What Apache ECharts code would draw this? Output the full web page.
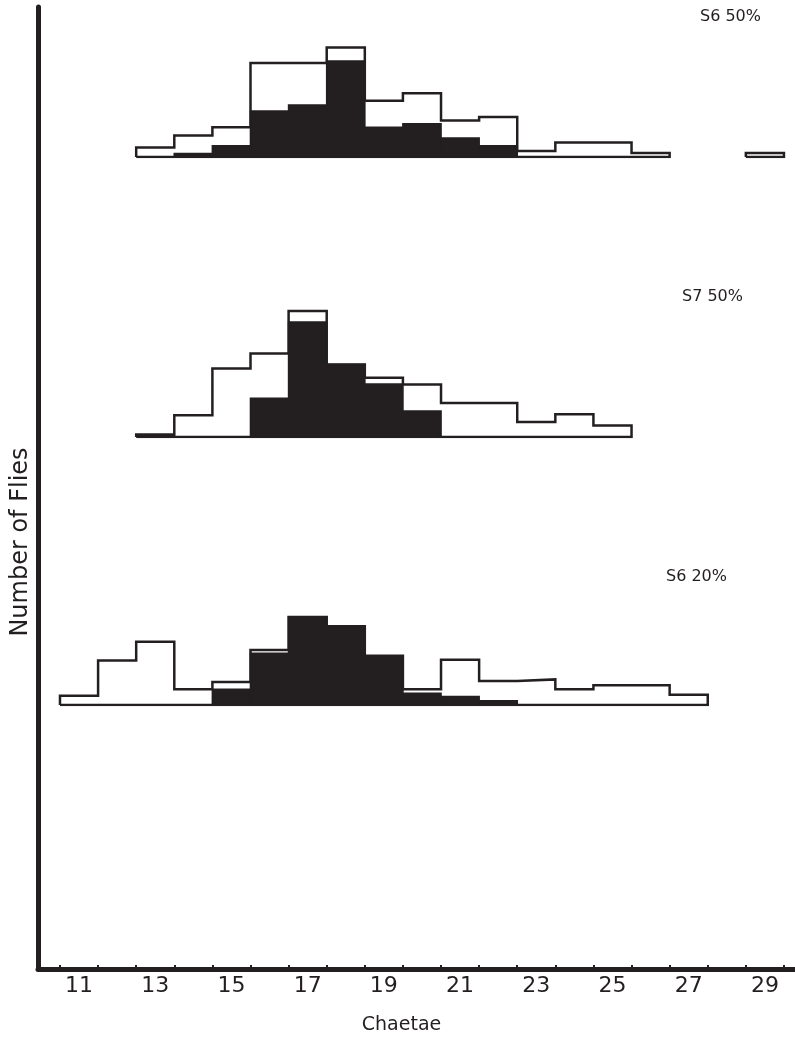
<!DOCTYPE html>
<html><head><meta charset="utf-8">
<script src="https://cdn.jsdelivr.net/npm/echarts@6/dist/echarts.min.js"></script>
<style>html,body{margin:0;padding:0;background:#fff}#c{width:795px;height:1042px}</style>
</head><body><div id="c"></div>
<script>
// Chaetae classes (bin centres)
const chaetae = [11,12,13,14,15,16,17,18,19,20,21,22,23,24,25,26,27,28,29];
// Tick labels on the x axis
const tickLabels = ['11','13','15','17','19','21','23','25','27','29'];
// Panel titles
const panelTitles = ['S6 50%', 'S7 50%', 'S6 20%'];

// Number of flies (relative heights), aligned with chaetae; null = no flies
const s6_50_all   = [null,null,9.5,21.4,29.8,94,94,109.5,56.3,63.7,36.6,40,6.1,14.6,14.6,4,null,null,4];
const s6_50_black = [null,null,null,3.4,11.2,46,52,96,29.8,33.2,19,11.2,null,null,null,null,null,null,null];

const s7_50_all   = [null,null,2.5,21.7,68.5,83.4,126,72.5,59.3,52.5,33.9,33.9,14.9,22.7,11.5,null,null,null,null];
const s7_50_black = [null,null,null,null,null,38.6,115,72.5,53,26,null,null,null,null,null,null,null,null,null];

const s6_20_all   = [9.2,44.6,63.3,15.7,23,55,88,78.7,49.2,15.7,45.3,24,25.6,15.7,19.7,19.7,10.2,null,null];
const s6_20_black = [null,null,null,null,15.7,51.8,88,78.7,49.2,11.8,8.5,4.3,null,null,null,null,null,null,null];

const INK = '#231f20';
const FONT = 'DejaVu Sans';
const X_MIN = 9.923, X_MAX = 29.79;
const tickVals = chaetae.map(c => c - 0.5).concat([chaetae[chaetae.length-1] + 0.5]);
const labelVals = tickLabels.map(Number);

const panels = [
  {all: s6_50_all, black: s6_50_black, top: 27},
  {all: s7_50_all, black: s7_50_black, top: 307},
  {all: s6_20_all, black: s6_20_black, top: 575}
];
const PANEL_H = 130;

const grids = [{left: 38, right: 0, top: 7, bottom: 73, containLabel: false, outerBoundsMode: 'none'}];
const xAxes = [{
  gridIndex: 0, type: 'value', min: X_MIN, max: X_MAX,
  axisLine: {show: true, lineStyle: {color: INK, width: 5}},
  axisTick: {show: true, inside: true, length: 4, customValues: tickVals, lineStyle: {color: INK, width: 2}},
  axisLabel: {show: true, customValues: labelVals, formatter: v => String(v), margin: 6,
    fontSize: 22, color: INK, fontFamily: FONT},
  splitLine: {show: false},
  name: 'Chaetae', nameLocation: 'middle', nameGap: 47,
  nameTextStyle: {fontSize: 19, color: INK, fontFamily: FONT, padding: [0, 30, 0, 0]}
}];
const yAxes = [{
  gridIndex: 0, type: 'value', min: 0, max: 1,
  axisLine: {show: true, lineStyle: {color: INK, width: 5}},
  axisTick: {show: false}, axisLabel: {show: false}, splitLine: {show: false},
  name: 'Number of Flies', nameLocation: 'middle', nameRotate: 90, nameGap: 5,
  nameTextStyle: {fontSize: 24, color: INK, fontFamily: FONT, padding: [0, 108, 0, 0]}
}];
const series = [];

function segments(vals) {
  const segs = [];
  let i = 0;
  while (i < vals.length) {
    if (vals[i] == null) { i++; continue; }
    let j = i;
    while (j + 1 < vals.length && vals[j + 1] != null) j++;
    segs.push([i, j]);
    i = j + 1;
  }
  return segs;
}

panels.forEach((p, k) => {
  const gi = k + 1;
  grids.push({left: 38, right: 0, top: p.top, height: PANEL_H, containLabel: false, outerBoundsMode: 'none'});
  xAxes.push({gridIndex: gi, type: 'value', min: X_MIN, max: X_MAX, show: false});
  yAxes.push({gridIndex: gi, type: 'value', min: 0, max: PANEL_H, show: false});
  // black filled bars
  const blackData = [];
  p.black.forEach((v, i) => { if (v != null) blackData.push([chaetae[i], v]); });
  series.push({
    type: 'custom', xAxisIndex: gi, yAxisIndex: gi, data: blackData, z: 2,
    encode: {x: 0, y: 1},
    renderItem: (params, api) => {
      const x = api.value(0), v = api.value(1);
      const a = api.coord([x - 0.5, v]);
      const b = api.coord([x + 0.5, 0]);
      return {type: 'rect', shape: {x: a[0], y: a[1], width: b[0] - a[0], height: b[1] - a[1]},
        style: {fill: INK, stroke: INK, lineWidth: 1.6}};
    }
  });
  // open outline (all flies), drawn as closed step outline
  segments(p.all).forEach(([i, j]) => {
    const pts = [[chaetae[i] - 0.5, 0]];
    for (let m = i; m <= j; m++) pts.push([chaetae[m] + 0.5, p.all[m]]);
    pts.push([chaetae[j] + 0.5, 0]);
    pts.push([chaetae[i] - 0.5, 0]);
    series.push({
      type: 'line', xAxisIndex: gi, yAxisIndex: gi, data: pts, step: 'start',
      symbol: 'none', z: 3, silent: true,
      lineStyle: {color: INK, width: 2.5, join: 'miter'}
    });
  });
});

const titles = [
  {text: panelTitles[0], left: 700, top: 9},
  {text: panelTitles[1], left: 682, top: 289},
  {text: panelTitles[2], left: 666, top: 569}
].map(t => Object.assign(t, {padding: 0, textStyle: {fontSize: 16, fontWeight: 'normal', color: INK, fontFamily: FONT}}));

const chart = echarts.init(document.getElementById('c'), null, {renderer: 'canvas'});
chart.setOption({
  animation: false,
  backgroundColor: '#fff',
  title: titles,
  grid: grids,
  xAxis: xAxes,
  yAxis: yAxes,
  series: series
});
</script>
</body></html>
